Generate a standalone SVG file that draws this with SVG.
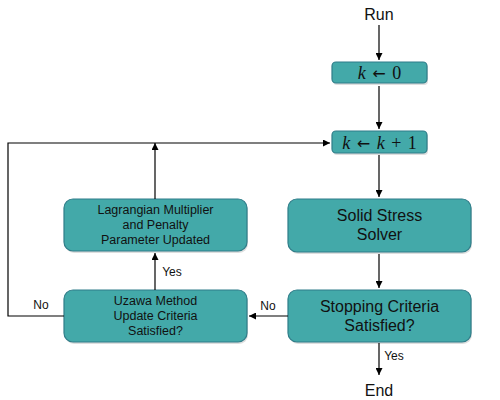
<svg xmlns="http://www.w3.org/2000/svg" width="500" height="400" viewBox="0 0 500 400">
<defs>
<style>
.box{fill:#43a9a9;stroke:#2f7d89;stroke-width:1.2}
.sh{fill:#c8c8c8;opacity:0.6}
.t{font-family:"Liberation Sans",Arial,sans-serif;fill:#111;text-anchor:middle}
.m{font-family:"Liberation Serif","DejaVu Serif",serif;fill:#111;text-anchor:middle;font-size:18px;word-spacing:2px}
.ar{font-family:"DejaVu Sans",sans-serif;font-size:16px}
.ln{stroke:#000;stroke-width:1.2;fill:none}
</style>
<marker id="ah" viewBox="0 0 10 10" refX="10" refY="5" markerWidth="7" markerHeight="7" orient="auto" markerUnits="userSpaceOnUse">
<path d="M0,0 L10,5 L0,10 z" fill="#000"/>
</marker>
</defs>
<rect width="500" height="400" fill="#fff"/>
<g id="run"><text class="t" x="379" y="20" font-size="16">Run</text></g>
<g id="k0">
<rect class="sh" x="333" y="64" width="95" height="21" rx="4"/>
<rect class="box" x="332" y="62" width="95" height="21" rx="4"/>
<text class="m" x="379.5" y="78.5"><tspan font-style="italic">k</tspan> <tspan class="ar">←</tspan> 0</text>
</g>
<g id="k1">
<rect class="sh" x="333" y="133" width="95" height="22" rx="4"/>
<rect class="box" x="332" y="131" width="95" height="22" rx="4"/>
<text class="m" x="379.5" y="148.5"><tspan font-style="italic">k</tspan> <tspan class="ar">←</tspan> <tspan font-style="italic">k</tspan> + 1</text>
</g>
<g id="solver">
<rect class="sh" x="289" y="201" width="183" height="53" rx="9"/>
<rect class="box" x="288" y="199" width="183" height="53" rx="9"/>
<text class="t" x="379.5" y="221" font-size="16">Solid Stress</text>
<text class="t" x="379.5" y="240" font-size="16">Solver</text>
</g>
<g id="stopping">
<rect class="sh" x="289" y="292" width="183" height="52" rx="9"/>
<rect class="box" x="288" y="290" width="183" height="52" rx="9"/>
<text class="t" x="379.5" y="312" font-size="16">Stopping Criteria</text>
<text class="t" x="379.5" y="331" font-size="16">Satisfied?</text>
</g>
<g id="lagrange">
<rect class="sh" x="65" y="201" width="183" height="52" rx="9"/>
<rect class="box" x="64" y="199" width="183" height="52" rx="9"/>
<text class="t" x="155.5" y="214" font-size="12.5">Lagrangian Multiplier</text>
<text class="t" x="155.5" y="229" font-size="12.5">and Penalty</text>
<text class="t" x="155.5" y="244" font-size="12.5">Parameter Updated</text>
</g>
<g id="uzawa">
<rect class="sh" x="65" y="292" width="183" height="52" rx="9"/>
<rect class="box" x="64" y="290" width="183" height="52" rx="9"/>
<text class="t" x="155.5" y="305" font-size="12.5">Uzawa Method</text>
<text class="t" x="155.5" y="320" font-size="12.5">Update Criteria</text>
<text class="t" x="155.5" y="335" font-size="12.5">Satisfied?</text>
</g>
<g id="end"><text class="t" x="379" y="396" font-size="16">End</text></g>
<g id="connectors">
<line class="ln" x1="379" y1="25" x2="379" y2="60" marker-end="url(#ah)"/>
<line class="ln" x1="379" y1="86" x2="379" y2="129" marker-end="url(#ah)"/>
<line class="ln" x1="379" y1="155" x2="379" y2="197" marker-end="url(#ah)"/>
<line class="ln" x1="379" y1="254" x2="379" y2="288" marker-end="url(#ah)"/>
<line class="ln" x1="379" y1="343" x2="379" y2="375" marker-end="url(#ah)"/>
<text class="t" x="394" y="360" font-size="12">Yes</text>
<line class="ln" x1="288" y1="316" x2="249" y2="316" marker-end="url(#ah)"/>
<text class="t" x="268" y="310" font-size="12">No</text>
<line class="ln" x1="155" y1="290" x2="155" y2="253" marker-end="url(#ah)"/>
<text class="t" x="172" y="276" font-size="12">Yes</text>
<polyline class="ln" points="64,316 8,316 8,143 330,143" marker-end="url(#ah)"/>
<text class="t" x="41" y="309" font-size="12">No</text>
<line class="ln" x1="155" y1="199" x2="155" y2="143" marker-end="url(#ah)"/>
</g>
</svg>
